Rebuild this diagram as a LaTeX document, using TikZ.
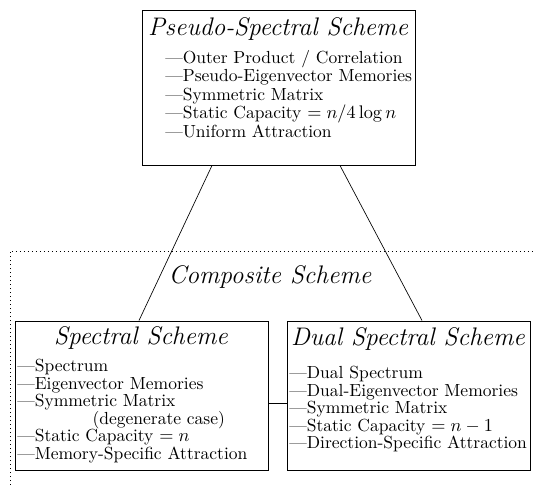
\documentclass[tikz,border=0pt]{standalone}
\usetikzlibrary{fit}

\begin{document}
\begin{tikzpicture}[x=0.6pt,y=-0.6pt]
\tikzset{schemebox/.style={draw, inner sep=0pt, line width=0.6pt},
  title/.style={font=\fontsize{15.25}{17}\selectfont\itshape},
  items/.style={align=left, anchor=north west, inner sep=0pt, font=\fontsize{10.5}{10.5}\selectfont}}
    \useasboundingbox (0,0) rectangle (534,485);

    % the outer scheme
    \node[schemebox, fit={(142,10) (415,165)}] (pseudo) {};
    \node[title] at (278,29) (pseudo_t) {Pseudo-Spectral Scheme};
    \node[items, font=\fontsize{10.5}{11.1}\selectfont] at (165,50) (pseudo_i) {---Outer Product / Correlation\\
      ---Pseudo-Eigenvector Memories\\ ---Symmetric Matrix\\
      ---Static Capacity $=n/4\log n$\\ ---Uniform Attraction};

    % the composite scheme
    \draw[dotted] (10,485) -- (10,251) -- (534,251);
    \node[title] at (270,277) (composite) {Composite Scheme};

    \node[schemebox, fit={(15,321) (268,470)}] (spectral) {};
    \node[title] at (141,338) (spectral_t) {Spectral Scheme};
    \node[items] at (17,359) (spectral_i) {---Spectrum\\ ---Eigenvector Memories\\
      ---Symmetric Matrix\\ \hspace{4.3em}(degenerate case)\\
      ---Static Capacity $=n$\\ ---Memory-Specific Attraction};

    \node[schemebox, fit={(287,321) (530,470)}] (dual) {};
    \node[title] at (408,339) (dual_t) {Dual Spectral Scheme};
    \node[items] at (289,366) (dual_i) {---Dual Spectrum\\ ---Dual-Eigenvector Memories\\
      ---Symmetric Matrix\\ ---Static Capacity $=n-1$\\ ---Direction-Specific Attraction};

    \coordinate (link) at (0,403);
    \draw (pseudo.south -| 212,0) -- (spectral.north -| 139,0);
    \draw (pseudo.south -| 340,0) -- (dual.north -| 422,0);
    \draw (spectral.east |- link) -- (dual.west |- link);
  \end{tikzpicture}
\end{document}
